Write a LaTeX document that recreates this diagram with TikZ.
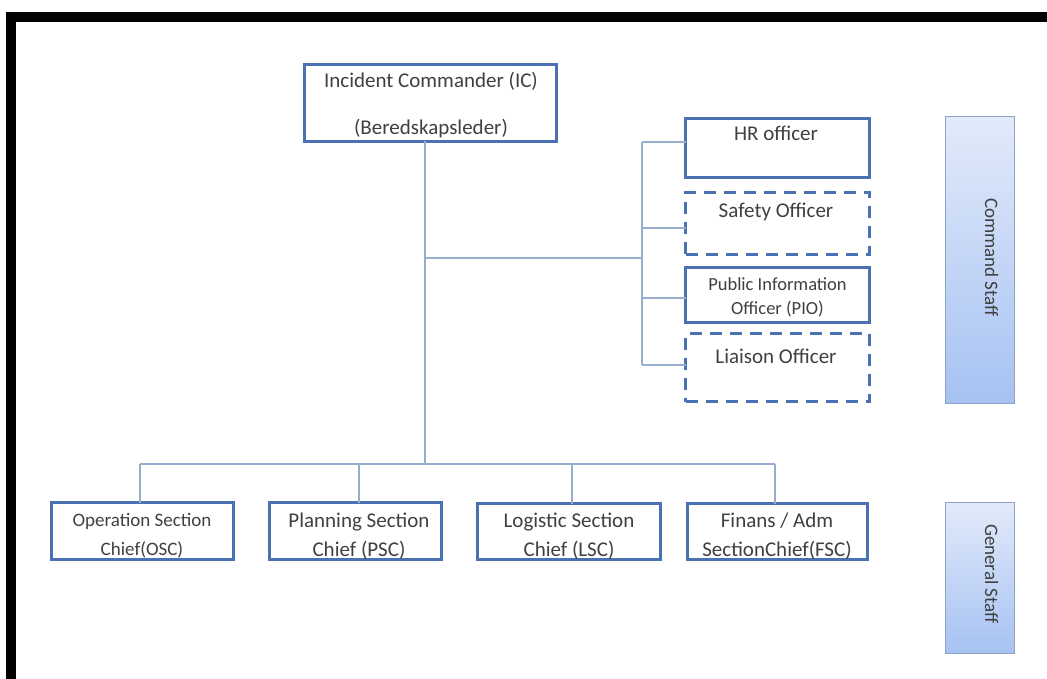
\documentclass[tikz,border=0pt]{standalone}
\usepackage{fontspec}
\setmainfont{Carlito}
\definecolor{boxblue}{HTML}{4A72B2}
\definecolor{linkblue}{HTML}{98AED0}
\definecolor{txtgray}{HTML}{404040}
\definecolor{bartop}{HTML}{E2EAFA}
\definecolor{barbottom}{HTML}{A6C2F2}
\definecolor{baredge}{HTML}{8FA3C4}
\tikzset{
  box/.style={draw=boxblue, line width=2.6pt, fill=white, inner sep=0pt, outer sep=0pt},
  dbox/.style={box, dash pattern=on 12pt off 8pt},
  tx/.style={text=txtgray, inner sep=0pt, anchor=base, font=\fontsize{21}{25}\selectfont},
  txs/.style={tx, font=\fontsize{18.5}{22}\selectfont},
  txo/.style={tx, font=\fontsize{19}{22}\selectfont},
  link/.style={draw=linkblue, line width=1.4pt},
  staffbar/.style={draw=baredge, line width=1pt, top color=bartop, bottom color=barbottom, inner sep=0pt, outer sep=0pt},
  bartext/.style={tx, rotate=-90, font=\fontsize{19}{22}\selectfont}
}
\begin{document}
\begin{tikzpicture}[x=1pt,y=-1pt]
\useasboundingbox (0,0) rectangle (1047,679);
% frame
\fill[black] (6,12) rectangle (1047,22);
\fill[black] (6,12) rectangle (16,679);
% connector junctions
\coordinate (jc) at (425,258);
\coordinate (jg) at (425,464);
\coordinate (ctop) at (642,142);
\coordinate (csaf) at (642,228);
\coordinate (cpio) at (642,298);
\coordinate (cbot) at (642,365);
\coordinate (gl) at (140,464);
\coordinate (gp) at (359,464);
\coordinate (gls) at (572,464);
\coordinate (gr) at (775,464);
% boxes
\node[box, minimum width=252pt, minimum height=77pt] (ic) at (430.5,103) {};
\node[box, minimum width=184pt, minimum height=59pt] (hr) at (777.5,148) {};
\node[dbox, minimum width=184pt, minimum height=62pt] (saf) at (777.5,223.5) {};
\node[box, minimum width=184pt, minimum height=55pt] (pio) at (777.5,295) {};
\node[dbox, minimum width=184pt, minimum height=68pt] (lia) at (777.5,367.5) {};
\node[box, minimum width=182pt, minimum height=57pt] (osc) at (142.5,531) {};
\node[box, minimum width=172pt, minimum height=57pt] (psc) at (355.5,531) {};
\node[box, minimum width=183pt, minimum height=56pt] (lsc) at (569,531.5) {};
\node[box, minimum width=180pt, minimum height=56pt] (fsc) at (777.5,531.5) {};
% staff bars
\node[staffbar, minimum width=69pt, minimum height=286pt] (cmd) at (979.5,260) {};
\node[staffbar, minimum width=69pt, minimum height=151pt] (gen) at (979.5,577.5) {};
% connectors
\draw[link] (ic.south -| jc) -- (jg);
\draw[link] (jc) -- (jc -| ctop);
\draw[link] (ctop) -- (cbot);
\draw[link] (ctop) -- (ctop -| hr.west);
\draw[link] (csaf) -- (csaf -| saf.west);
\draw[link] (cpio) -- (cpio -| pio.west);
\draw[link] (cbot) -- (cbot -| lia.west);
\draw[link] (gl) -- (gr);
\draw[link] (gl) -- (gl |- osc.north);
\draw[link] (gp) -- (gp |- psc.north);
\draw[link] (gls) -- (gls |- lsc.north);
\draw[link] (gr) -- (gr |- fsc.north);
% texts
\node[tx] (ic1) at (431,88) {Incident Commander (IC)};
\node[tx] (ic2) at (431,135) {(Beredskapsleder)};
\node[tx] (hrt) at (776,141) {HR officer};
\node[tx] (saft) at (776,218) {Safety Officer};
\node[txs] (pio1) at (777.5,290.5) {Public Information};
\node[txs] (pio2) at (777.5,314.5) {Officer (PIO)};
\node[tx] (liat) at (776,363) {Liaison Officer};
\node[txo] (osc1) at (142,526.5) {Operation Section};
\node[txo] (osc2) at (142,555.5) {Chief(OSC)};
\node[tx] (psc1) at (359,527) {Planning Section};
\node[tx] (psc2) at (359,556) {Chief (PSC)};
\node[tx] (lsc1) at (569,527) {Logistic Section};
\node[tx] (lsc2) at (569,556) {Chief (LSC)};
\node[tx] (fsc1) at (777,527) {Finans / Adm};
\node[tx] (fsc2) at (777,556) {SectionChief(FSC)};
\node[bartext] (cmdt) at (985,257.5) {Command Staff};
\node[bartext] (gent) at (985,574) {General Staff};
\end{tikzpicture}
\end{document}
